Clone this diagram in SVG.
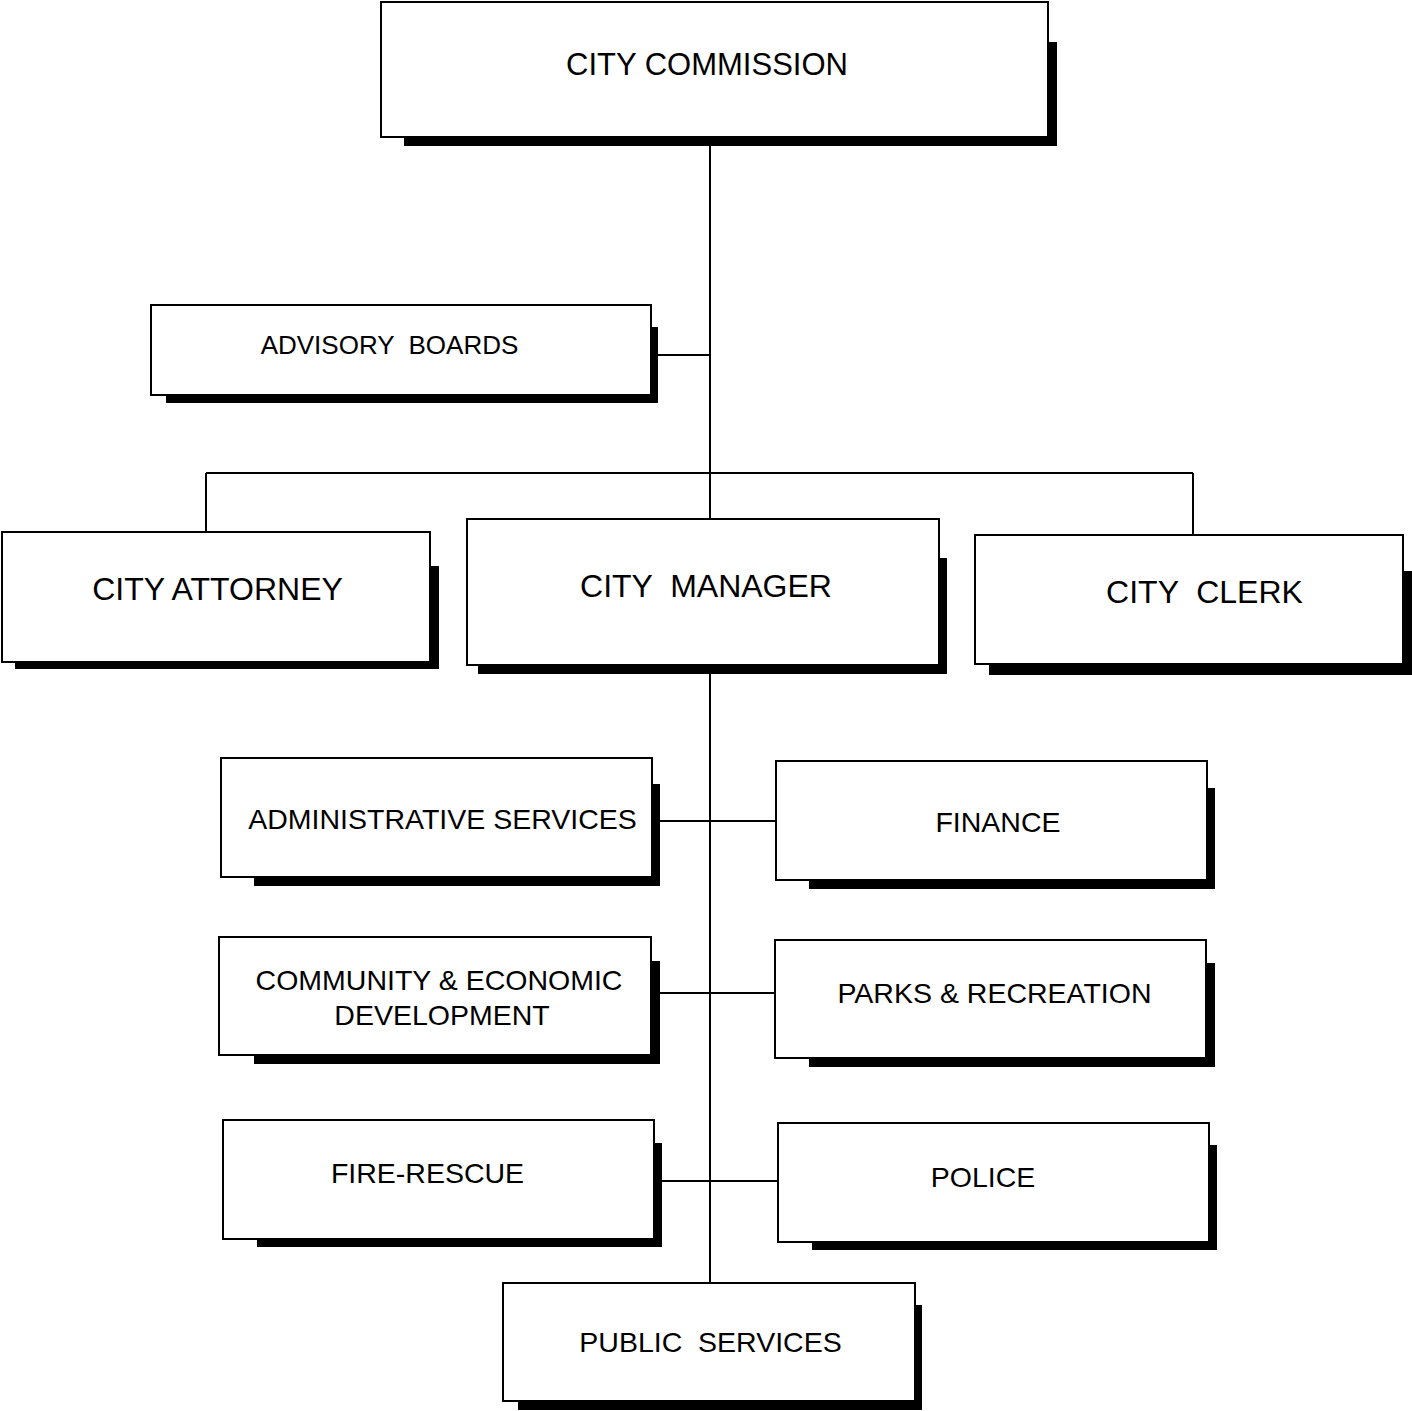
<svg xmlns="http://www.w3.org/2000/svg" width="1412" height="1411" viewBox="0 0 1412 1411">
  <style>
    .shadow { fill: #000; }
    .box { fill: #fff; stroke: #000; stroke-width: 2; }
    .lbl { font-family: "Liberation Sans", Arial, sans-serif; fill: #000; text-anchor: middle; }
    .big { font-size: 31px; }
    .mid { font-size: 28.5px; }
    .sml { font-size: 26px; }
    .wire { stroke: #000; stroke-width: 2; fill: none; }
  </style>

  <rect width="1412" height="1411" fill="#fff"/>

  <!-- connectors -->
  <g id="connectors">
    <line class="wire" x1="710" y1="137" x2="710" y2="519"/>
    <line class="wire" x1="651" y1="355" x2="710" y2="355"/>
    <line class="wire" x1="206" y1="473" x2="1193" y2="473"/>
    <line class="wire" x1="206" y1="473" x2="206" y2="532"/>
    <line class="wire" x1="1193" y1="473" x2="1193" y2="535"/>
    <line class="wire" x1="710" y1="665" x2="710" y2="1283"/>
    <line class="wire" x1="652" y1="821" x2="776" y2="821"/>
    <line class="wire" x1="651" y1="993" x2="775" y2="993"/>
    <line class="wire" x1="654" y1="1181" x2="778" y2="1181"/>
  </g>

  <g id="city-commission">
    <rect class="shadow" x="404" y="42" width="653" height="104"/>
    <rect class="box" x="381" y="2" width="667" height="135"/>
    <text class="lbl big" x="707" y="75">CITY COMMISSION</text>
  </g>

  <g id="advisory-boards">
    <rect class="shadow" x="166" y="327" width="492" height="76"/>
    <rect class="box" x="151" y="305" width="500" height="90"/>
    <text class="lbl sml" x="389.5" y="354" xml:space="preserve">ADVISORY  BOARDS</text>
  </g>

  <g id="city-attorney">
    <rect class="shadow" x="15" y="566" width="424" height="103"/>
    <rect class="box" x="2" y="532" width="428" height="130"/>
    <text class="lbl big" x="217.5" y="600" style="font-size:32px">CITY ATTORNEY</text>
  </g>

  <g id="city-manager">
    <rect class="shadow" x="478" y="558" width="469" height="116"/>
    <rect class="box" x="467" y="519" width="472" height="146"/>
    <text class="lbl big" x="706" y="597" style="font-size:32px" xml:space="preserve">CITY  MANAGER</text>
  </g>

  <g id="city-clerk">
    <rect class="shadow" x="989" y="571" width="423" height="104"/>
    <rect class="box" x="975" y="535" width="428" height="129"/>
    <text class="lbl big" x="1204.5" y="603" style="font-size:32px" xml:space="preserve">CITY  CLERK</text>
  </g>

  <g id="administrative-services">
    <rect class="shadow" x="254" y="784" width="406" height="102"/>
    <rect class="box" x="221" y="758" width="431" height="119"/>
    <text class="lbl mid" x="442.5" y="829">ADMINISTRATIVE SERVICES</text>
  </g>

  <g id="finance">
    <rect class="shadow" x="809" y="788" width="406" height="101"/>
    <rect class="box" x="776" y="761" width="431" height="119"/>
    <text class="lbl mid" x="998" y="832">FINANCE</text>
  </g>

  <g id="community-economic-development">
    <rect class="shadow" x="254" y="961" width="406" height="103"/>
    <rect class="box" x="219" y="937" width="432" height="118"/>
    <text class="lbl mid" x="439" y="990">COMMUNITY &amp; ECONOMIC</text>
    <text class="lbl mid" x="442" y="1025">DEVELOPMENT</text>
  </g>

  <g id="parks-recreation">
    <rect class="shadow" x="809" y="963" width="406" height="104"/>
    <rect class="box" x="775" y="940" width="431" height="118"/>
    <text class="lbl mid" x="994.5" y="1003">PARKS &amp; RECREATION</text>
  </g>

  <g id="fire-rescue">
    <rect class="shadow" x="257" y="1143" width="405" height="104"/>
    <rect class="box" x="223" y="1120" width="431" height="119"/>
    <text class="lbl mid" x="427.5" y="1183">FIRE-RESCUE</text>
  </g>

  <g id="police">
    <rect class="shadow" x="812" y="1145" width="405" height="105"/>
    <rect class="box" x="778" y="1123" width="431" height="119"/>
    <text class="lbl mid" x="983" y="1187">POLICE</text>
  </g>

  <g id="public-services">
    <rect class="shadow" x="518" y="1305" width="404" height="105"/>
    <rect class="box" x="503" y="1283" width="412" height="118"/>
    <text class="lbl mid" x="710.5" y="1352" xml:space="preserve">PUBLIC  SERVICES</text>
  </g>
</svg>
